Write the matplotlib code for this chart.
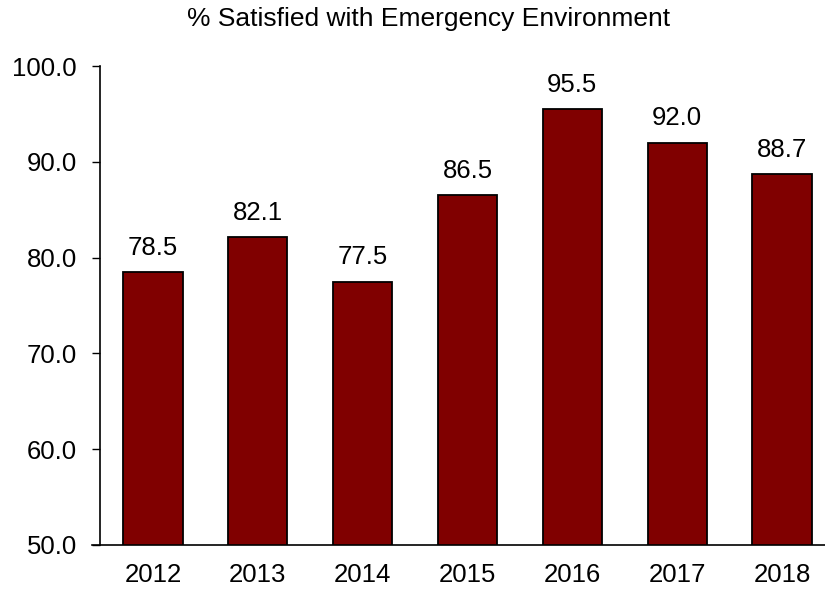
import matplotlib.pyplot as plt

plt.rcParams["font.family"] = ["Liberation Sans", "DejaVu Sans"]

years = ["2012", "2013", "2014", "2015", "2016", "2017", "2018"]
pct_satisfied = [78.5, 82.1, 77.5, 86.5, 95.5, 92.0, 88.7]

fig = plt.figure(figsize=(8.25, 5.95), dpi=100)
ax = fig.add_axes([100 / 825, 1 - 545 / 595, 725 / 825, (545 - 66) / 595])

x = range(len(years))
bars = ax.bar(x, pct_satisfied, width=0.565, color="#800000", edgecolor="black", linewidth=1.3, zorder=2)
for b, v in zip(bars, pct_satisfied):
    ax.text(b.get_x() + b.get_width() / 2, v + 1.8, "{:.1f}".format(v),
            ha="center", va="baseline", fontsize=18.5)

ax.set_ylim(50, 100)
ax.set_xlim(-0.505, 6.41)
ax.set_yticks(range(50, 101, 10))
ax.set_yticklabels(["{:.1f}".format(t) for t in range(50, 101, 10)], fontsize=18.5)
ax.set_xticks(list(x))
ax.set_xticklabels(years, fontsize=18.5)
ax.tick_params(axis="x", length=0, pad=13)
ax.tick_params(axis="y", length=5.8, width=1, pad=10.8)
ax.spines["top"].set_visible(False)
ax.spines["right"].set_visible(False)
ax.spines["bottom"].set_visible(False)
ax.spines["left"].set_linewidth(1.2)
# baseline runs a little past the y axis, like the original
ax.plot([-0.011, 1], [0, 0], color="black", linewidth=1.2, transform=ax.transAxes, clip_on=False, zorder=3)

fig.text(429 / 825, 1 - 19 / 595, "% Satisfied with Emergency Environment", ha="center", va="center", fontsize=19)

fig.savefig("out.png", dpi=100)
